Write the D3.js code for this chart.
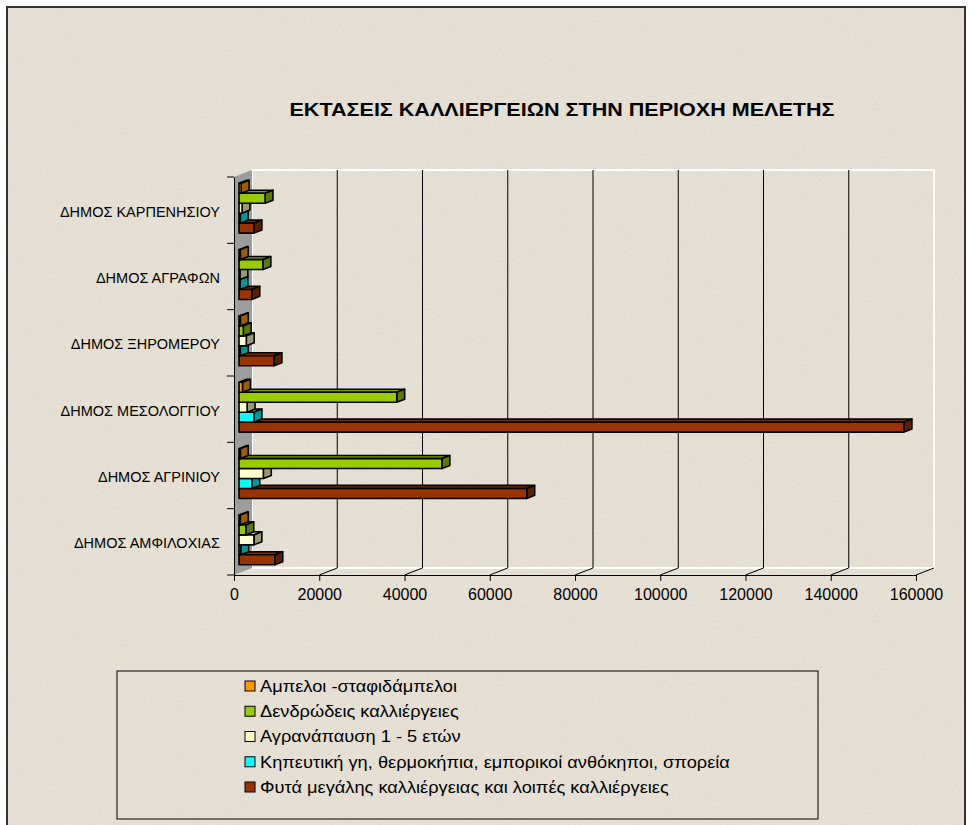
<!DOCTYPE html>
<html>
<head>
<meta charset="utf-8">
<script src="https://cdn.jsdelivr.net/npm/d3@7"></script>
<style>
  body { margin: 0; background: #ffffff; }
  text { font-family: Arial, "Liberation Sans", sans-serif; fill: #000; }
</style>
</head>
<body>
<svg id="chart" width="973" height="825"></svg>
<script>
// Municipalities, listed from the bottom of the chart upwards
const categories = [
  "ΔΗΜΟΣ ΑΜΦΙΛΟΧΙΑΣ",
  "ΔΗΜΟΣ ΑΓΡΙΝΙΟΥ",
  "ΔΗΜΟΣ ΜΕΣΟΛΟΓΓΙΟΥ",
  "ΔΗΜΟΣ ΞΗΡΟΜΕΡΟΥ",
  "ΔΗΜΟΣ ΑΓΡΑΦΩΝ",
  "ΔΗΜΟΣ ΚΑΡΠΕΝΗΣΙΟΥ"
];

// Crop areas (stremmata) per municipality, same order as categories
const ampeloi     = [300, 300, 800, 300, 300, 500];
const dendrodeis  = [1600, 47600, 37000, 1000, 5600, 6100];
const agranapausi = [3500, 5700, 1900, 1700, 200, 700];
const kipeftiki   = [400, 3000, 3500, 300, 200, 300];
const megalis     = [8400, 67500, 156000, 8200, 3000, 3500];

const seriesNames = [
  "Αμπελοι -σταφιδάμπελοι",
  "Δενδρώδεις καλλιέργειες",
  "Αγρανάπαυση 1 - 5 ετών",
  "Κηπευτική γη, θερμοκήπια, εμπορικοί ανθόκηποι, σπορεία",
  "Φυτά μεγάλης καλλιέργειας και λοιπές καλλιέργειες"
];
const seriesValues = [ampeloi, dendrodeis, agranapausi, kipeftiki, megalis];

const xTicks = [0, 20000, 40000, 60000, 80000, 100000, 120000, 140000, 160000];

const title = "ΕΚΤΑΣΕΙΣ ΚΑΛΛΙΕΡΓΕΙΩΝ ΣΤΗΝ ΠΕΡΙΟΧΗ ΜΕΛΕΤΗΣ";

// Face colours: front, top, side
const palette = [
  { front: "#FF9900", top: "#CC7A00", side: "#9C5E00" },
  { front: "#99CC00", top: "#7AA300", side: "#5C7A00" },
  { front: "#FFFFCC", top: "#CCCCA3", side: "#99997A" },
  { front: "#00FFFF", top: "#00CCCC", side: "#009999" },
  { front: "#993300", top: "#7A2900", side: "#5C1F00" }
];

const svg = d3.select("#chart");
const bg = "#e6e0d5";

// light speckled paper texture for the chart background
const defs = svg.append("defs");
const tex = defs.append("filter").attr("id", "speckle")
  .attr("x", 0).attr("y", 0).attr("width", "100%").attr("height", "100%");
tex.append("feTurbulence").attr("type", "fractalNoise")
  .attr("baseFrequency", "0.75 0.5").attr("numOctaves", 2).attr("seed", 7).attr("result", "n");
tex.append("feColorMatrix").attr("in", "n").attr("type", "matrix")
  .attr("values", "0 0 0 0 0.5  0 0 0 0 0.46  0 0 0 0 0.42  0 0 0 -3 1.55");

// chart frame
svg.append("rect")
  .attr("x", 7).attr("y", 7).attr("width", 958).attr("height", 840)
  .attr("fill", bg).attr("stroke", "#333").attr("stroke-width", 2);
svg.append("rect")
  .attr("x", 8).attr("y", 8).attr("width", 956).attr("height", 838)
  .attr("filter", "url(#speckle)").attr("opacity", 0.18);

// title
svg.append("text")
  .attr("x", 562).attr("y", 116)
  .attr("text-anchor", "middle")
  .attr("textLength", 545).attr("lengthAdjust", "spacingAndGlyphs")
  .style("font-size", "18px").style("font-weight", "bold")
  .text(title);

// 3D projection: value, front-plane y, depth z in [0,1]
const x = d3.scaleLinear().domain([0, 160000]).range([234, 916]);
const yBand = d3.scaleBand().domain(categories).range([575, 177]);
const depth = { dx: 18, dy: -7 };
const P = (v, yy, z) => [x(v) + depth.dx * z, yy + depth.dy * z];
const yTop = 177, yBot = 575, vMax = 160000;

const poly = (pts) => "M" + pts.map(p => p.join(",")).join("L") + "Z";

// back wall outline
svg.append("path")
  .attr("d", poly([P(0, yTop, 1), P(vMax, yTop, 1), P(vMax, yBot, 1), P(0, yBot, 1)]))
  .attr("fill", "none").attr("stroke", "#ffffff").attr("stroke-width", 2);

// side wall
svg.append("path")
  .attr("d", poly([P(0, yTop, 0), P(0, yTop, 1), P(0, yBot, 1), P(0, yBot, 0)]))
  .attr("fill", "#9d9d9d").attr("stroke", "none");

// floor back edge
svg.append("line")
  .attr("x1", P(0, yBot, 1)[0]).attr("y1", P(0, yBot, 1)[1])
  .attr("x2", P(vMax, yBot, 1)[0]).attr("y2", P(vMax, yBot, 1)[1])
  .attr("stroke", "#ffffff").attr("stroke-width", 2);

// gridlines on the back wall and floor
const grid = svg.append("g").attr("stroke", "#000").attr("stroke-width", 1);
xTicks.filter(t => t > 0 && t < vMax).forEach(t => {
  const a = P(t, yTop, 1), b = P(t, yBot, 1);
  grid.append("line").attr("x1", a[0]).attr("y1", a[1]).attr("x2", b[0]).attr("y2", b[1]);
});
xTicks.filter(t => t > 0).forEach(t => {
  const a = P(t, yBot, 0), b = P(t, yBot, 1);
  grid.append("line").attr("x1", a[0]).attr("y1", a[1]).attr("x2", b[0]).attr("y2", b[1]);
});

// value axis
const xAxis = svg.append("g")
  .attr("transform", `translate(0,${yBot})`)
  .call(d3.axisBottom(x).tickValues(xTicks).tickSize(6).tickSizeOuter(0).tickPadding(8).tickFormat(d3.format("d")));
xAxis.select(".domain").attr("stroke", "#000");
xAxis.selectAll(".tick line").attr("stroke", "#000");
xAxis.selectAll("text").style("font-size", "16px").attr("font-family", null);

// category axis
const yAxis = svg.append("g")
  .attr("transform", `translate(${x(0)},0)`)
  .call(d3.axisLeft(yBand).tickSize(0).tickPadding(14));
yAxis.select(".domain").attr("stroke", "#000");
yAxis.selectAll("text").style("font-size", "14.5px").attr("font-family", null).attr("dy", "0.45em");
const boundaries = categories.map(c => yBand(c)).concat([yBot]);
boundaries.forEach(b => {
  svg.append("line").attr("x1", x(0) - 7).attr("x2", x(0)).attr("y1", b).attr("y2", b)
    .attr("stroke", "#000");
});

// bars: each cluster holds the five series, first series at the top
const inner = d3.scaleBand()
  .domain(d3.range(seriesValues.length))
  .range([0, yBand.bandwidth()])
  .paddingInner(0).paddingOuter(0.83);
const z0 = 0.28, z1 = 0.72;

const bars = [];
categories.forEach((cat, ci) => {
  seriesValues.forEach((vals, si) => {
    bars.push({ ci, si, v: vals[ci], y0: yBand(cat) + inner(si) });
  });
});
// lower bars first so the bar above hides their top face
bars.sort((a, b) => b.y0 - a.y0);

const barLayer = svg.append("g")
  .attr("stroke", "#000").attr("stroke-width", 1.6).attr("stroke-linejoin", "round");
bars.forEach(d => {
  const h = inner.bandwidth();
  const a = P(0, d.y0, z0), b = P(d.v, d.y0, z0);
  const c = P(d.v, d.y0 + h, z0), e = P(0, d.y0 + h, z0);
  const bt = P(d.v, d.y0, z1), at = P(0, d.y0, z1), ct = P(d.v, d.y0 + h, z1);
  const col = palette[d.si];
  const g = barLayer.append("g");
  g.append("path").attr("d", poly([a, b, bt, at])).attr("fill", col.top);
  g.append("path").attr("d", poly([b, bt, ct, c])).attr("fill", col.side);
  g.append("path").attr("d", poly([a, b, c, e])).attr("fill", col.front);
});

// legend
const legend = svg.append("g");
legend.append("rect")
  .attr("x", 117).attr("y", 671).attr("width", 701).attr("height", 148)
  .attr("fill", "none").attr("stroke", "#000").attr("stroke-width", 1);
const ly = d3.scalePoint().domain(d3.range(seriesNames.length)).range([686, 787]);
seriesNames.forEach((name, i) => {
  legend.append("rect")
    .attr("x", 245).attr("y", ly(i) - 5).attr("width", 10).attr("height", 10)
    .attr("fill", palette[i].front).attr("stroke", "#000").attr("stroke-width", 1);
  legend.append("text")
    .attr("transform", `translate(260,${ly(i)}) scale(1.14,1)`)
    .attr("dy", "0.36em")
    .style("font-size", "16px")
    .text(name);
});
</script>
</body>
</html>
